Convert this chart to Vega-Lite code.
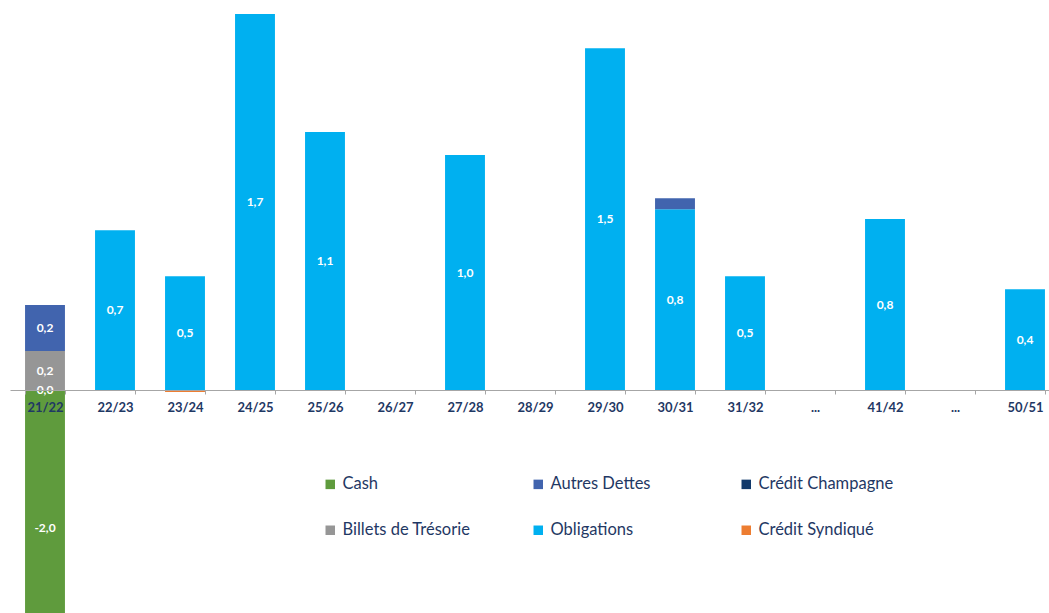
{
  "$schema": "https://vega.github.io/schema/vega-lite/v6.json",
  "width": 1050,
  "height": 666,
  "padding": {"left": 10, "top": 0, "right": 0, "bottom": 0},
  "autosize": {"type": "pad"},
  "background": "white",
  "config": {"view": {"stroke": null}},
  "data": {
    "values": [
      {"periode": "21/22", "serie": "Cash", "valeur": -2.0},
      {"periode": "21/22", "serie": "Billets de Trésorie", "valeur": 0.173},
      {"periode": "21/22", "serie": "Autres Dettes", "valeur": 0.204},
      {"periode": "21/22", "serie": "Obligations", "valeur": 0},
      {"periode": "22/23", "serie": "Obligations", "valeur": 0.708},
      {"periode": "23/24", "serie": "Obligations", "valeur": 0.504},
      {"periode": "23/24", "serie": "Crédit Syndiqué", "valeur": -0.008},
      {"periode": "24/25", "serie": "Obligations", "valeur": 1.664},
      {"periode": "25/26", "serie": "Obligations", "valeur": 1.142},
      {"periode": "26/27", "serie": "Obligations", "valeur": 0},
      {"periode": "27/28", "serie": "Obligations", "valeur": 1.04},
      {"periode": "28/29", "serie": "Obligations", "valeur": 0},
      {"periode": "29/30", "serie": "Obligations", "valeur": 1.513},
      {"periode": "30/31", "serie": "Obligations", "valeur": 0.8},
      {"periode": "30/31", "serie": "Autres Dettes", "valeur": 0.049},
      {"periode": "31/32", "serie": "Obligations", "valeur": 0.504},
      {"periode": "...1", "serie": "Obligations", "valeur": 0},
      {"periode": "41/42", "serie": "Obligations", "valeur": 0.757},
      {"periode": "50/51", "serie": "Obligations", "valeur": 0.447}
    ]
  },
  "transform": [
    {"stack": "valeur", "groupby": ["periode"], "sort": [{"field": "serie", "order": "descending"}], "as": ["v0", "v1"]},
    {"calculate": "(max(datum.v0,-1.22)+max(datum.v1,-1.22))/2", "as": "vmid"},
    {"calculate": "(datum.valeur < 0 ? '-' : '') + replace(format(abs(datum.valeur),'.1f'),'.',',')", "as": "etiquette"}
  ],
  "layer": [
    {
      "mark": {"type": "bar", "clip": true},
      "encoding": {
        "x": {
          "field": "periode",
          "type": "nominal",
          "scale": {
            "domain": ["21/22", "22/23", "23/24", "24/25", "25/26", "26/27", "27/28", "28/29", "29/30", "30/31", "31/32", "...1", "41/42", "...2", "50/51"],
            "paddingInner": 0.43,
            "paddingOuter": 0.215
          },
          "axis": {
            "title": null,
            "orient": "bottom",
            "offset": -276,
            "domainColor": "#A6A6A6",
            "tickColor": "#A6A6A6",
            "tickSize": 4,
            "tickBand": "extent",
            "labelFont": "Lato",
            "labelFontWeight": "bold",
            "labelFontSize": 13,
            "labelColor": "#1F3864",
            "labelPadding": 7,
            "labelAngle": 0,
            "zindex": 1,
            "labelExpr": "indexof(datum.label,'...')==0 ? '...' : datum.label"
          }
        },
        "y": {
          "field": "v0",
          "type": "quantitative",
          "scale": {"domain": [-1.22, 1.726], "nice": false, "zero": false},
          "axis": null
        },
        "y2": {"field": "v1"},
        "color": {
          "field": "serie",
          "type": "nominal",
          "scale": {
            "domain": ["Cash", "Autres Dettes", "Crédit Champagne", "Billets de Trésorie", "Obligations", "Crédit Syndiqué"],
            "range": ["#5F9B3D", "#4164AE", "#123A6C", "#969696", "#00B0F0", "#ED7D31"]
          },
          "legend": {
            "orient": "none",
            "legendX": 312,
            "legendY": 476,
            "direction": "horizontal",
            "columns": 3,
            "title": null,
            "symbolType": "square",
            "symbolSize": 90,
            "symbolStrokeWidth": 0,
            "labelFont": "Lato",
            "labelFontSize": 16.5,
            "labelColor": "#1F3864",
            "columnPadding": 52,
            "rowPadding": 29,
            "gridAlign": "all",
            "labelOffset": 4,
            "padding": 0,
            "labelLimit": 300
          }
        }
      }
    },
    {
      "transform": [{"filter": "abs(datum.valeur) >= 0.1 || datum.valeur == 0"}],
      "mark": {"type": "text", "color": "white", "font": "Lato", "fontWeight": "bold", "fontSize": 12},
      "encoding": {
        "x": {"field": "periode", "type": "nominal"},
        "y": {"field": "vmid", "type": "quantitative"},
        "text": {"field": "etiquette"}
      }
    }
  ]
}
